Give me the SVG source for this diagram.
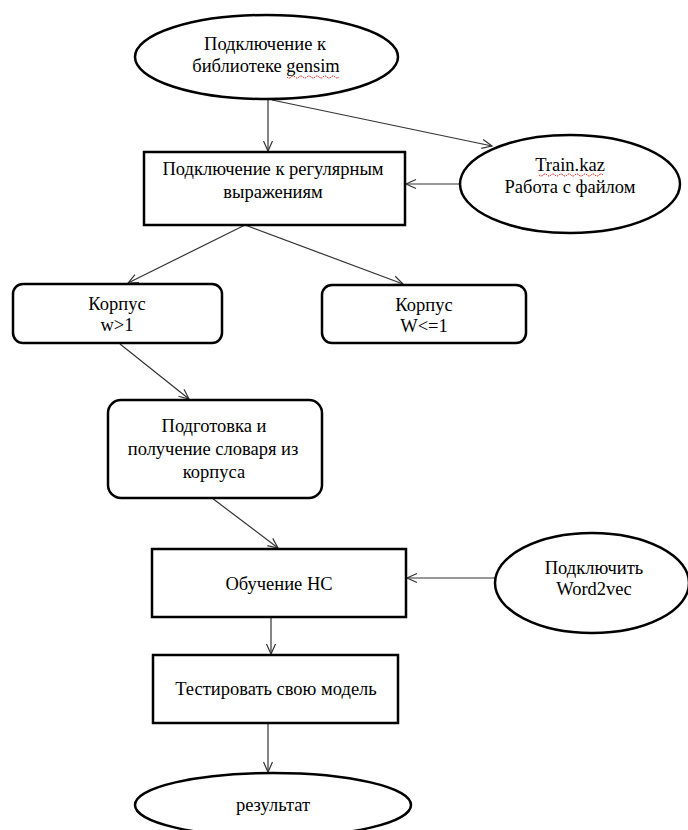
<svg xmlns="http://www.w3.org/2000/svg" width="688" height="830" viewBox="0 0 688 830">
<style>
.box{fill:#fff;stroke:#000;stroke-width:2.5}
.t{font-family:"Liberation Serif","Times New Roman",serif;font-size:18.5px;fill:#000;text-anchor:middle}
.c{stroke:#333;stroke-width:1.2;fill:none;marker-end:url(#ah)}
.sp{stroke:#d00;stroke-width:1;fill:none;stroke-dasharray:1.5 1}
</style>
<defs>
<marker id="ah" markerUnits="userSpaceOnUse" markerWidth="14" markerHeight="12" viewBox="-12 -6 14 12" refX="0" refY="0" orient="auto">
<path d="M-10,-4.5 L0,0 L-10,4.5" fill="none" stroke="#333" stroke-width="1.2"/>
</marker>
</defs>
<rect width="688" height="830" fill="#fff"/>
<g id="connectors">
<line class="c" x1="268" y1="99" x2="268" y2="151"/>
<line class="c" x1="272" y1="100" x2="492" y2="146"/>
<line class="c" x1="460" y1="184" x2="406" y2="184"/>
<line class="c" x1="245" y1="225" x2="128" y2="283"/>
<line class="c" x1="245" y1="225" x2="403" y2="284"/>
<line class="c" x1="120" y1="344" x2="189" y2="399"/>
<line class="c" x1="212" y1="498" x2="278" y2="548"/>
<line class="c" x1="495" y1="578" x2="407" y2="578"/>
<line class="c" x1="271" y1="617" x2="271" y2="654"/>
<line class="c" x1="268" y1="723" x2="268" y2="772"/>
</g>
<g id="n1">
<ellipse class="box" cx="266.5" cy="57" rx="131.5" ry="42"/>
<text class="t" x="265" y="50">Подключение к</text>
<text class="t" x="266" y="72">библиотеке gensim</text>
<path class="sp" d="M287,77 q2,2 4,0 t4,0 t4,0 t4,0 t4,0 t4,0 t4,0 t4,0 t4,0 t4,0 t4,0 t4,0 t4,0"/>
</g>
<g id="n2">
<rect class="box" x="144" y="152" width="261" height="73"/>
<text class="t" x="273" y="175">Подключение к регулярным</text>
<text class="t" x="273" y="198">выражениям</text>
</g>
<g id="n3">
<ellipse class="box" cx="570" cy="184" rx="110" ry="49"/>
<text class="t" x="570" y="171">Train.kaz</text>
<path class="sp" d="M539,175 q2,2 4,0 t4,0 t4,0 t4,0 t4,0 t4,0 t4,0 t4,0 t4,0 t4,0 t4,0 t4,0 t4,0 t4,0 t4,0 t4,0"/>
<text class="t" x="570" y="193">Работа с файлом</text>
</g>
<g id="n4">
<rect class="box" x="13" y="284" width="209" height="59" rx="10"/>
<text class="t" x="117" y="310">Корпус</text>
<text class="t" x="117" y="331">w&gt;1</text>
</g>
<g id="n5">
<rect class="box" x="322" y="285" width="204" height="58" rx="10"/>
<text class="t" x="424" y="311">Корпус</text>
<text class="t" x="424" y="332">W&lt;=1</text>
</g>
<g id="n6">
<rect class="box" x="108" y="400" width="214" height="98" rx="13"/>
<text class="t" x="214" y="432">Подготовка и</text>
<text class="t" x="213" y="455">получение словаря из</text>
<text class="t" x="214" y="478">корпуса</text>
</g>
<g id="n7">
<rect class="box" x="152" y="549" width="254" height="68"/>
<text class="t" x="279" y="590">Обучение НС</text>
</g>
<g id="n8">
<ellipse class="box" cx="592" cy="583" rx="97" ry="50"/>
<text class="t" x="594" y="574">Подключить</text>
<text class="t" x="594" y="595">Word2vec</text>
</g>
<g id="n9">
<rect class="box" x="153" y="655" width="245" height="68"/>
<text class="t" x="276" y="695">Тестировать свою модель</text>
</g>
<g id="n10">
<ellipse class="box" cx="273" cy="805" rx="138" ry="32"/>
<text class="t" x="273" y="811">результат</text>
</g>
</svg>
